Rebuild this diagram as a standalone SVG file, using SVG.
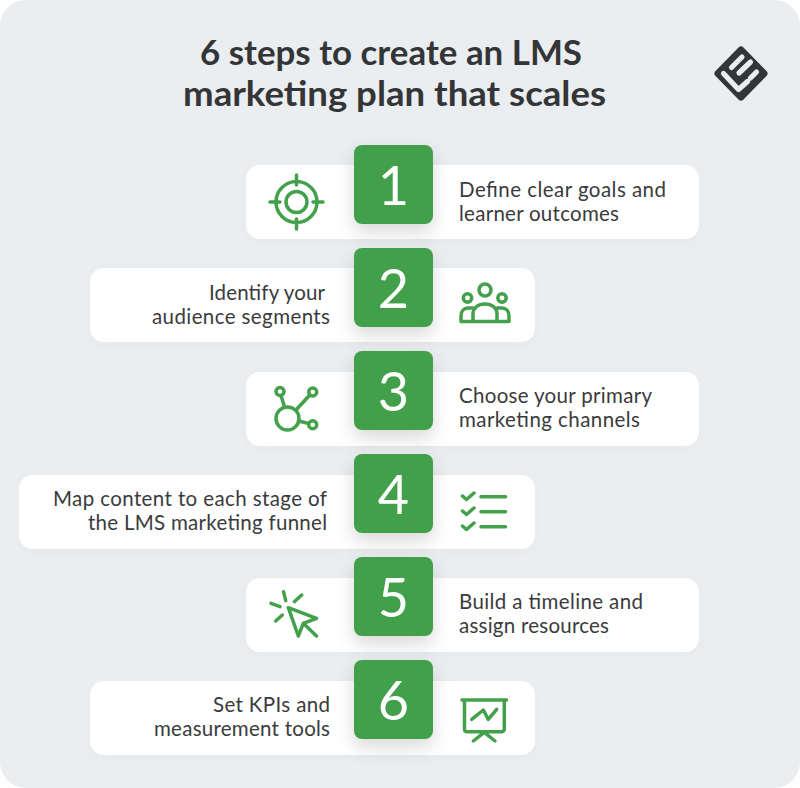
<svg xmlns="http://www.w3.org/2000/svg" width="800" height="788" viewBox="0 0 800 788">
<style>
.t{font-family:"Lato","Liberation Sans",sans-serif;fill:#3a3b3d}
.title{font-size:33.500px;font-weight:700;fill:#343537}
.lab{font-size:20.500px}
.num{font-family:"Lato","Liberation Sans",sans-serif;font-size:54px;font-weight:400;fill:#fff;text-anchor:middle}
.card{fill:#fff}
.sq{fill:#43a04b}
.ic{fill:none;stroke:#43a04b;stroke-width:3.500;stroke-linecap:round;stroke-linejoin:round}
.lg{fill:none;stroke:#eaeef1;stroke-width:5.200;stroke-linecap:round;stroke-linejoin:round}
</style>
<defs>
<filter id="sh" x="-40%" y="-40%" width="180%" height="190%"><feDropShadow dx="0" dy="8" stdDeviation="9" flood-color="#000" flood-opacity=".15"/></filter>
<filter id="cs" x="-5%" y="-20%" width="110%" height="150%"><feDropShadow dx="0" dy="3" stdDeviation="5" flood-color="#000" flood-opacity=".02"/></filter>
</defs>
<rect width="800" height="788" fill="#fff"/>
<rect width="800" height="788" rx="26" fill="#eaeef1"/>
<g id="title">
<text class="t title" x="200" y="65" textLength="382" lengthAdjust="spacingAndGlyphs">6 steps to create an LMS</text>
<text class="t title" x="183" y="106" textLength="423" lengthAdjust="spacingAndGlyphs">marketing plan that scales</text>
</g>
<g id="logo">
<path d="M741 50L764 73.500L741 97L718 73.500Z" fill="#343537" stroke="#343537" stroke-width="7" stroke-linejoin="round"/>
<path class="lg" d="M731.500 67.500L742 57M739 73L750.500 62M750.500 78L756.500 72M723.500 73.500L738.500 89.500L747.500 81.500"/>
</g>
<g id="connectors"></g>
<g id="step1">
<rect class="card" filter="url(#cs)" x="246" y="165" width="453" height="74" rx="14"/>
<g class="ic"><circle cx="296.500" cy="202" r="20.500"/><circle cx="296.500" cy="202" r="10.500"/><path d="M296.500 175V185M296.500 219V229M270 202H280M313 202H323"/></g>
<rect class="sq" filter="url(#sh)" x="354" y="145" width="79" height="79" rx="8"/>
<text class="num" x="393.500" y="205">1</text>
<text class="t lab" x="459" y="197" textLength="207">Define clear goals and</text>
<text class="t lab" x="459" y="221" textLength="160">learner outcomes</text>
</g>
<g id="step2">
<rect class="card" filter="url(#cs)" x="90" y="268" width="445" height="74" rx="14"/>
<g class="ic"><circle cx="485" cy="290" r="6"/><circle cx="467.500" cy="298" r="4.200"/><circle cx="502" cy="298" r="4.200"/><path d="M473 321.500V314C473 308 478 304 485 304S497 308 497 314V321.500ZM473 321.500H461V316C461 311 464 308 468 308H473M497 321.500H509V316C509 311 506 308 502 308H497"/></g>
<rect class="sq" filter="url(#sh)" x="354" y="248" width="79" height="79" rx="8"/>
<text class="num" x="393.500" y="308">2</text>
<text class="t lab" x="209" y="300" textLength="116">Identify your</text>
<text class="t lab" x="152" y="324" textLength="178">audience segments</text>
</g>
<g id="step3">
<rect class="card" filter="url(#cs)" x="246" y="372" width="453" height="74" rx="14"/>
<g class="ic"><circle cx="287.500" cy="418.500" r="11.500"/><circle cx="280" cy="391.500" r="4"/><circle cx="312.700" cy="392" r="4"/><circle cx="312.700" cy="424.700" r="4"/><path d="M281 395.500L284.500 407M309.800 395L296 410M298.500 421L308.800 423.500"/></g>
<rect class="sq" filter="url(#sh)" x="354" y="351" width="79" height="79" rx="8"/>
<text class="num" x="393.500" y="411">3</text>
<text class="t lab" x="459" y="403" textLength="193">Choose your primary</text>
<text class="t lab" x="459" y="427" textLength="181">marketing channels</text>
</g>
<g id="step4">
<rect class="card" filter="url(#cs)" x="19" y="475" width="516" height="74" rx="14"/>
<g class="ic"><path d="M462.500 496L466.500 499.500L474 493M462.500 511L466.500 514.500L474 508M462.500 526L466.500 529.500L474 523M481 496.800H505.500M481 511.800H505.500M481 526.800H505.500"/></g>
<rect class="sq" filter="url(#sh)" x="354" y="454" width="79" height="79" rx="8"/>
<text class="num" x="393.500" y="514">4</text>
<text class="t lab" x="53" y="506" textLength="274">Map content to each stage of</text>
<text class="t lab" x="88" y="530" textLength="239">the LMS marketing funnel</text>
</g>
<g id="step5">
<rect class="card" filter="url(#cs)" x="246" y="578" width="453" height="74" rx="14"/>
<g class="ic"><path d="M288.300 607.700L316.500 618.300L303.300 623.300L298.300 636ZM303.300 623.300L316.500 636M283.500 591.700L285.700 600.700M271 603.300L280 606.700M275.700 621L282.300 615M294.300 601.700L301.700 595"/></g>
<rect class="sq" filter="url(#sh)" x="354" y="557" width="79" height="79" rx="8"/>
<text class="num" x="393.500" y="617">5</text>
<text class="t lab" x="459" y="609" textLength="184">Build a timeline and</text>
<text class="t lab" x="459" y="633" textLength="150">assign resources</text>
</g>
<g id="step6">
<rect class="card" filter="url(#cs)" x="90" y="681" width="445" height="74" rx="14"/>
<g class="ic"><path d="M462 700H506.500M464.500 700V729C464.500 730.500 465.500 731.700 467 731.700H501.500C503 731.700 504.300 730.500 504.300 729V700M471.700 719.300L483.300 710L488.300 719.300L496.700 709.300M484.300 732.300L473.300 741M484.300 732.300L495 741"/></g>
<rect class="sq" filter="url(#sh)" x="354" y="660" width="79" height="79" rx="8"/>
<text class="num" x="393.500" y="720">6</text>
<text class="t lab" x="213" y="712" textLength="117">Set KPIs and</text>
<text class="t lab" x="154" y="736" textLength="176">measurement tools</text>
</g>
</svg>
